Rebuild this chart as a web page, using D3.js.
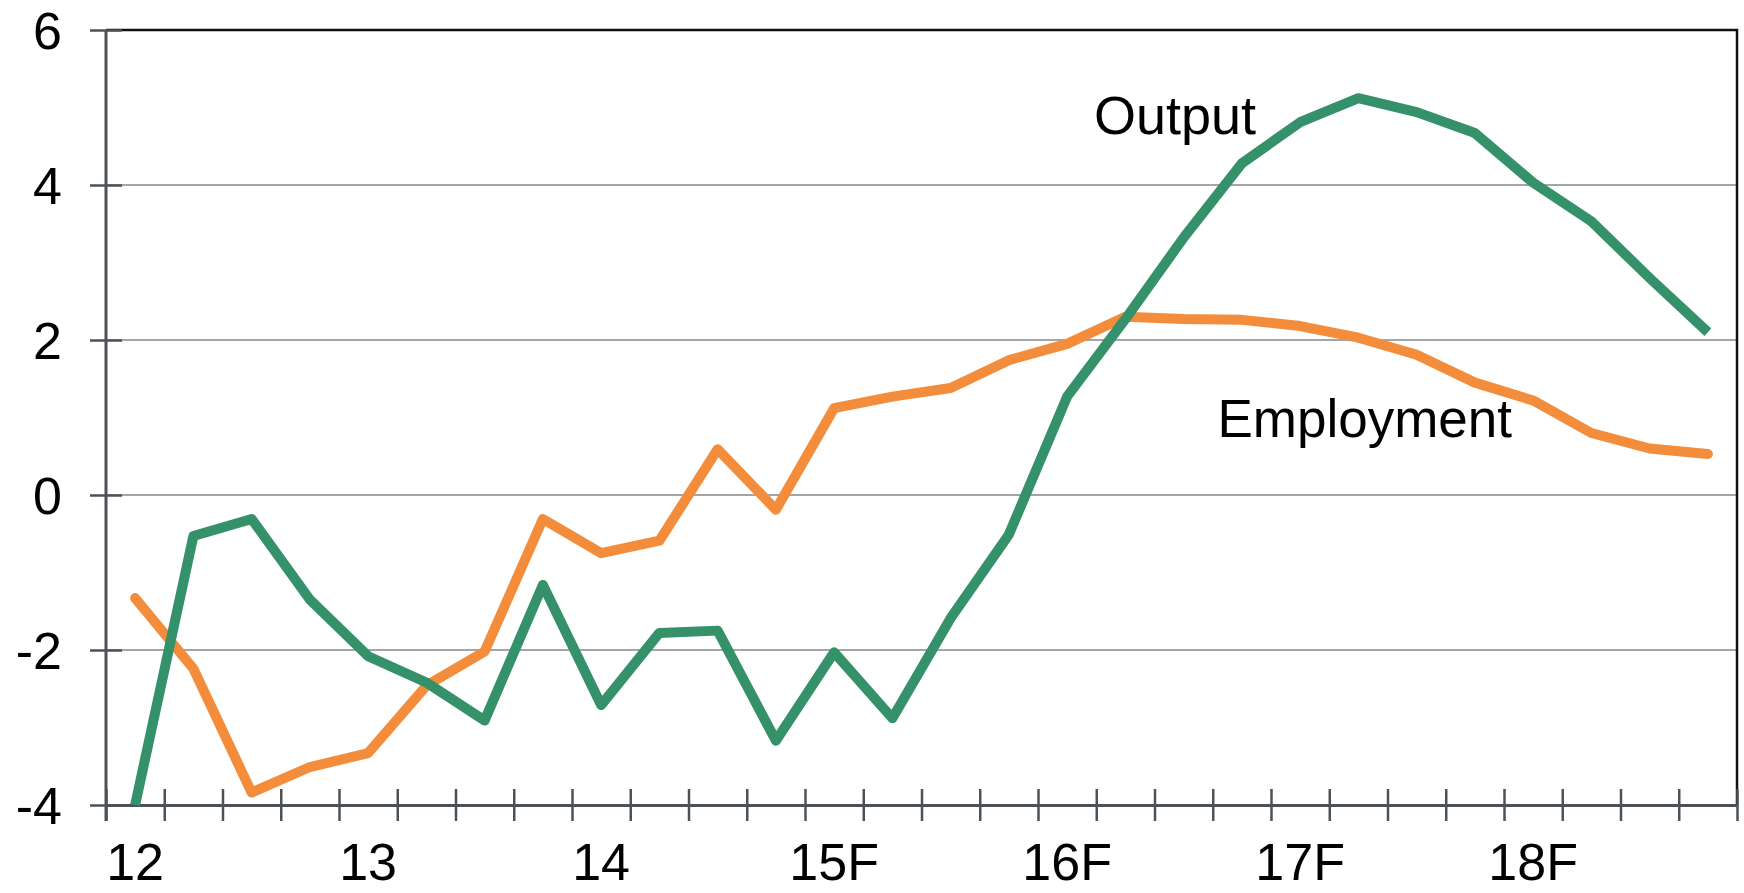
<!DOCTYPE html>
<html>
<head>
<meta charset="utf-8">
<script src="https://cdn.jsdelivr.net/npm/d3@7"></script>
<style>
  html, body { margin: 0; padding: 0; background: #fff; }
  svg text { font-family: "Liberation Sans", Arial, Helvetica, sans-serif; fill: #000; }
</style>
</head>
<body>
<div id="chart"></div>
<script>
(function(d3){

    // Year labels, one per four quarters
    let yearLabels = ['12', '13', '14', '15F', '16F', '17F', '18F'];

    // Quarterly values, 2012 Q1 .. 2018 Q4
    let output = [
        -4.0, -0.53, -0.31, -1.35,
        -2.08, -2.42, -2.91, -1.16,
        -2.71, -1.78, -1.75, -3.17,
        -2.03, -2.88, -1.59, -0.51,
        1.27, 2.27, 3.32, 4.28,
        4.81, 5.12, 4.94, 4.67,
        4.03, 3.53, 2.80, 2.10
    ];

    let employment = [
        -1.33, -2.24, -3.84, -3.51,
        -3.33, -2.46, -2.02, -0.31,
        -0.75, -0.59, 0.59, -0.19,
        1.12, 1.27, 1.38, 1.74,
        1.95, 2.30, 2.27, 2.26,
        2.18, 2.03, 1.81, 1.45,
        1.22, 0.80, 0.60, 0.53
    ];

    let yTicks = [-4, -2, 0, 2, 4, 6];

    // Canvas size
    let width = 1744, height = 893;
    let left = 106, right = 1737, top = 30, bottom = 805;

    let svg = d3.select('#chart')
        .append('svg')
        .attr('width', width)
        .attr('height', height);

    // quarter index -> pixel; points sit in the middle of each quarter
    let x = d3.scaleLinear().domain([0, output.length]).range([left, right]);
    let y = d3.scaleLinear().domain([-4, 6]).range([bottom, top]);

    // Gridlines
    svg.append('g')
        .selectAll('line')
        .data(yTicks.filter(v => v > -4 && v < 6))
        .join('line')
        .attr('x1', left).attr('x2', right)
        .attr('y1', d => y(d)).attr('y2', d => y(d))
        .attr('stroke', '#a3a5a8')
        .attr('stroke-width', 2);

    // Black frame on top and right
    svg.append('path')
        .attr('d', `M${left},${y(6)}H${right}V${bottom}`)
        .attr('fill', 'none')
        .attr('stroke', '#111')
        .attr('stroke-width', 2.5);

    // X axis with crossing ticks at quarter boundaries
    let xAxis = svg.append('g')
        .attr('transform', `translate(0,${bottom})`)
        .call(d3.axisBottom(x).tickValues(d3.range(output.length + 1)).tickFormat('').tickSizeOuter(0));
    xAxis.select('.domain').attr('stroke', '#4c5157').attr('stroke-width', 3);
    xAxis.selectAll('.tick line')
        .attr('y1', -16).attr('y2', 16)
        .attr('stroke', '#4c5157').attr('stroke-width', 2.5);

    // Y axis with crossing ticks
    let yAxis = svg.append('g')
        .attr('transform', `translate(${left},0)`)
        .call(d3.axisLeft(y).tickValues(yTicks).tickFormat('').tickSizeOuter(0));
    yAxis.select('.domain').attr('stroke', '#4c5157').attr('stroke-width', 3)
        .attr('d', `M0,${y(6)}V${bottom + 16}`);
    yAxis.selectAll('.tick line')
        .attr('x1', -16).attr('x2', 16)
        .attr('stroke', '#4c5157').attr('stroke-width', 2.5);

    // Tick labels
    svg.append('g')
        .selectAll('text')
        .data(yTicks)
        .join('text')
        .attr('x', 62)
        .attr('y', d => y(d))
        .attr('dy', '0.36em')
        .attr('text-anchor', 'end')
        .style('font-size', '52px')
        .text(d => d);

    svg.append('g')
        .selectAll('text')
        .data(yearLabels)
        .join('text')
        .attr('x', (d, i) => x(i * 4 + 0.5))
        .attr('y', 880)
        .attr('text-anchor', 'middle')
        .style('font-size', '52px')
        .text(d => d);

    // Series lines
    let line = d3.line()
        .x((d, i) => x(i + 0.5))
        .y(d => y(d));

    svg.append('path')
        .datum(employment)
        .attr('d', line)
        .attr('fill', 'none')
        .attr('stroke', '#f48d3b')
        .attr('stroke-width', 10)
        .attr('stroke-linejoin', 'round')
        .attr('stroke-linecap', 'round');

    svg.append('path')
        .datum(output)
        .attr('d', line)
        .attr('fill', 'none')
        .attr('stroke', '#34916a')
        .attr('stroke-width', 10)
        .attr('stroke-linejoin', 'round')
        .attr('stroke-linecap', 'butt');

    // Series labels
    svg.append('text')
        .attr('x', x(16.96)).attr('y', y(4.66))
        .style('font-size', '54px')
        .text('Output');

    svg.append('text')
        .attr('x', x(19.08)).attr('y', y(0.75))
        .style('font-size', '53px')
        .text('Employment');

})(window.d3);
</script>
</body>
</html>
